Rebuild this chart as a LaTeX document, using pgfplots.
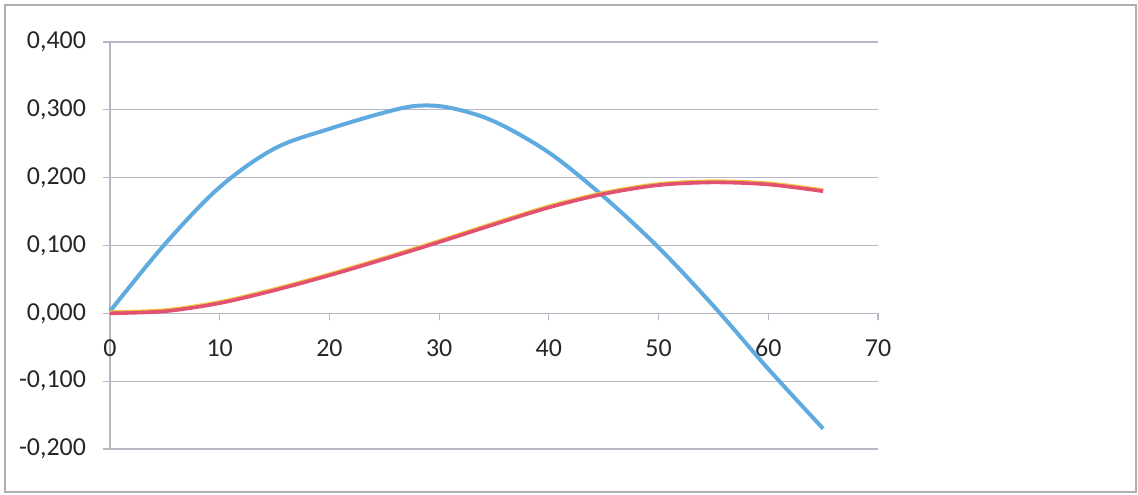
\documentclass[border=0pt]{standalone}
\usepackage{pgfplots}
\pgfplotsset{compat=1.18}
\usepackage{fontspec}
\setmainfont{Carlito}
\definecolor{blueline}{RGB}{95,170,222}
\definecolor{redline}{RGB}{226,82,112}
\definecolor{yelline}{RGB}{242,196,70}
\definecolor{gridc}{RGB}{185,182,195}
\definecolor{framec}{RGB}{175,175,175}
\begin{document}
\begin{tikzpicture}
\useasboundingbox (-55bp,-23bp) rectangle (514bp,224.5bp);
\draw[framec, line width=0.6bp] (-52.5bp,-21.5bp) rectangle (513bp,222bp);
\begin{axis}[
  at={(0,0)}, anchor=south west,
  scale only axis,
  width=384bp, height=203.5bp,
  xmin=0, xmax=70, ymin=-0.2, ymax=0.4,
  axis x line=middle, axis y line=left,
  axis line style={-, gridc, line width=0.6bp},
  xtick={10,20,...,70},
  xticklabels={10,20,30,40,50,60,70},
  extra x ticks={0},
  extra x tick labels={0},
  ytick={-0.2,-0.1,0,0.1,0.2,0.3,0.4},
  yticklabels={{-0,200},{-0,100},{0,000},{0,100},{0,200},{0,300},{0,400}},
  tick align=outside,
  major tick length=3.5bp,
  tick style={gridc, line width=0.6bp},
  ymajorgrids,
  major grid style={gridc, line width=0.6bp},
  ticklabel style={font=\fontsize{13}{15}\selectfont, text=black!85},
  xticklabel style={yshift=-6bp},
  extra x tick style={tick style={gridc, line width=0.6bp}},
  yticklabel style={xshift=-5bp},
  clip=false,
]
\addplot[blueline, line width=2bp, smooth, tension=0.55] coordinates {
 (0,0.003) (5,0.102) (10,0.186) (15,0.243) (20,0.272) (25,0.296) (28,0.306)
 (31,0.303) (35,0.283) (40,0.237) (45,0.172) (50,0.097) (55,0.011)
 (60,-0.082) (65,-0.170)};
\addplot[yelline, line width=2bp, smooth, tension=0.5] coordinates {
 (0,0.0015) (5,0.0045) (10,0.0165) (15,0.0355) (20,0.0575) (25,0.0815)
 (30,0.1065) (35,0.1325) (40,0.1575) (45,0.1775) (50,0.1905) (55,0.1945)
 (60,0.1915) (65,0.1815)};
\addplot[redline, line width=1.8bp, smooth, tension=0.5] coordinates {
 (0,0.0) (5,0.003) (10,0.015) (15,0.034) (20,0.056) (25,0.080)
 (30,0.105) (35,0.131) (40,0.156) (45,0.176) (50,0.189) (55,0.193)
 (60,0.190) (65,0.180)};
\end{axis}
\end{tikzpicture}
\end{document}
